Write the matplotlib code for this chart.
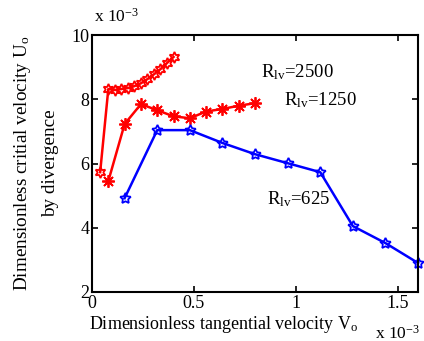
import numpy as np
import matplotlib
matplotlib.use('Agg')
import matplotlib.pyplot as plt

plt.rcParams['font.family'] = ['Liberation Serif', 'DejaVu Serif']
plt.rcParams['mathtext.fontset'] = 'custom'
plt.rcParams['mathtext.rm'] = 'Liberation Serif'
plt.rcParams['mathtext.it'] = 'Liberation Serif'

# values in units of 1e-3
v_2500 = [0.04, 0.08, 0.112, 0.144, 0.176, 0.208, 0.24, 0.272, 0.304, 0.336, 0.368, 0.40]
u_2500 = [5.73, 8.32, 8.29, 8.32, 8.35, 8.41, 8.50, 8.63, 8.78, 8.94, 9.13, 9.32]

v_1250 = [0.08, 0.16, 0.24, 0.32, 0.40, 0.48, 0.56, 0.64, 0.72, 0.80]
u_1250 = [5.45, 7.23, 7.85, 7.66, 7.47, 7.41, 7.62, 7.70, 7.80, 7.88]

v_625 = [0.16, 0.32, 0.48, 0.64, 0.80, 0.96, 1.12, 1.28, 1.44, 1.60]
u_625 = [4.92, 7.04, 7.04, 6.64, 6.29, 6.01, 5.73, 4.05, 3.52, 2.90]

fig = plt.figure(figsize=(4.24, 3.41), dpi=100)
ax = fig.add_axes([0.217, 0.144, 0.769, 0.753])

ax.plot(v_2500, u_2500, color='red', linewidth=1.8, marker=(6, 1, 0),
        markersize=8, markerfacecolor='none', markeredgewidth=1.3, clip_on=False)
ax.plot(v_1250, u_1250, color='red', linewidth=1.8, marker=(8, 2, 0),
        markersize=9, markeredgewidth=1.3, clip_on=False)
ax.plot(v_625, u_625, color='blue', linewidth=1.8, marker=(5, 1, 0),
        markersize=8, markerfacecolor='none', markeredgewidth=1.3, clip_on=False)

ax.text(0.83, 8.85, r'R$_{\rm lv}$=2500', fontsize=13.5, va='center')
ax.text(0.94, 7.98, r'R$_{\rm lv}$=1250', fontsize=13.5, va='center')
ax.text(0.86, 4.88, r'R$_{\rm lv}$=625', fontsize=13.5, va='center')

ax.set_xlim(0, 1.6)
ax.set_ylim(2, 10)
ax.set_xticks([0, 0.5, 1, 1.5])
ax.set_xticklabels(['0', '0.5', '1', '1.5'])
ax.set_yticks([2, 4, 6, 8, 10])
ax.tick_params(direction='in', top=True, right=True, labelsize=13, width=1.2, length=4, pad=2)
for s in ax.spines.values():
    s.set_linewidth(1.5)

ax.set_xlabel(r'Dimensionless tangential velocity V$_{\rm o}$', fontsize=13)
ax.xaxis.set_label_coords(0.405, -0.085)
ax.set_ylabel('Dimensionless critial velocity U$_{\\rm o}$\nby divergence', fontsize=13.8,
              labelpad=9, linespacing=1.65)

fig.text(0.222, 0.935, r'x 10$^{-3}$', fontsize=12.5)
fig.text(0.885, 0.008, r'x 10$^{-3}$', fontsize=12.5)

fig.savefig('out.png', dpi=100)
